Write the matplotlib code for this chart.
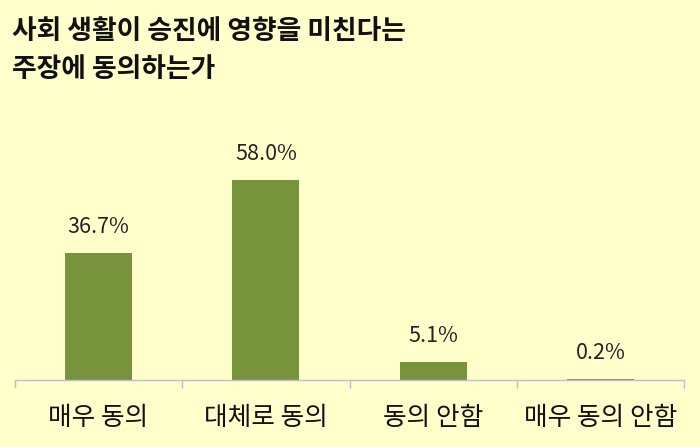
import matplotlib.pyplot as plt

plt.rcParams['font.family'] = ['Noto Sans CJK KR', 'DejaVu Sans']

# data
categories = ['매우 동의', '대체로 동의', '동의 안함', '매우 동의 안함']
values = [36.7, 58.0, 5.1, 0.2]
title = '사회 생활이 승진에 영향을 미친다는\n주장에 동의하는가'

bg = '#FFFFCC'
bar_color = '#77933C'
axis_gray = '#BFBFBF'

fig = plt.figure(figsize=(7, 4.47), dpi=100, facecolor=bg)
ax = fig.add_axes([15/700, 1 - 380/447, 669/700, 280/447])
ax.set_facecolor(bg)

x = list(range(len(categories)))
bars = ax.bar(x, values, width=0.4, color=bar_color)

for b, v in zip(bars, values):
    ax.annotate(f'{v:.1f}%', (b.get_x() + b.get_width() / 2, v),
                xytext=(0, 11), textcoords='offset points',
                ha='center', va='bottom', fontsize=15.5, color='#222222')

ax.set_xlim(-0.5, len(categories) - 0.5)
ax.set_ylim(0, 81.2)

# separators between categories on the axis
ax.set_xticks([i - 0.5 for i in range(len(categories) + 1)])
ax.set_xticklabels([])
ax.tick_params(axis='x', which='major', length=6, width=1, color=axis_gray, direction='out')
ax.set_xticks(x, minor=True)
ax.set_xticklabels(categories, minor=True, fontsize=18.5, color='#111111')
ax.tick_params(axis='x', which='minor', length=0, pad=18)

ax.set_yticks([])
for s in ['top', 'left', 'right']:
    ax.spines[s].set_visible(False)
ax.spines['bottom'].set_color(axis_gray)
ax.spines['bottom'].set_linewidth(1)

fig.text(12/700, 1 - 17/447, title, ha='left', va='top', fontsize=19.3,
         fontweight='bold', color='#111111', linespacing=1.45)

fig.savefig('out.png', dpi=100, facecolor=bg)
